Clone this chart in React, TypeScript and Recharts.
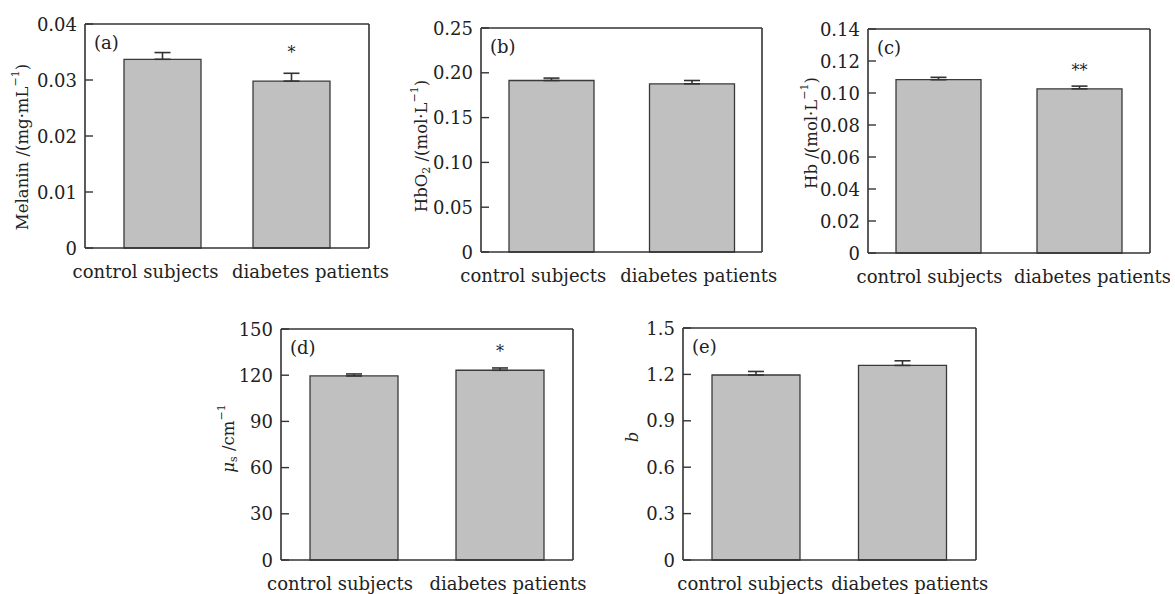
import React from "react"
import { BarChart, Bar, XAxis, YAxis, ErrorBar, LabelList, Label } from "recharts"

const categorias = ["control subjects", "diabetes patients"]

const melanina = [0.0337, 0.0298]
const melaninaErro = [0.0012, 0.0014]
const melaninaSig = ["", "*"]
const melaninaTicks = [0, 0.01, 0.02, 0.03, 0.04]

const hbo2 = [0.1914, 0.1877]
const hbo2Erro = [0.0027, 0.0037]
const hbo2Sig = ["", ""]
const hbo2Ticks = [0, 0.05, 0.1, 0.15, 0.2, 0.25]

const hb = [0.1083, 0.1026]
const hbErro = [0.0015, 0.0017]
const hbSig = ["", "**"]
const hbTicks = [0, 0.02, 0.04, 0.06, 0.08, 0.1, 0.12, 0.14]

const mus = [119.5, 123.2]
const musErro = [1.3, 1.5]
const musSig = ["", "*"]
const musTicks = [0, 30, 60, 90, 120, 150]

const bExp = [1.196, 1.258]
const bErro = [0.023, 0.03]
const bSig = ["", ""]
const bTicks = [0, 0.3, 0.6, 0.9, 1.2, 1.5]

const FONTE = "DejaVu Serif"
const COR_EIXO = "#333"
const COR_TEXTO = "#222"
const TAM_ROTULO = 16.5

type Parte = { t: string; sup?: boolean; sub?: boolean; it?: boolean }

interface PainelCfg {
  letra: string
  valores: number[]
  erros: number[]
  sig: string[]
  ticks: number[]
  casas: number
  rotulo: Parte[]
  x: number
  y: number
  w: number
  h: number
  barSize: number
  pad: number
  xDx: [number, number]
  rotuloGap: number
  rotuloDy: number
  estrelaOff: number
}

const paineis: PainelCfg[] = [
  {
    letra: "(a)", valores: melanina, erros: melaninaErro, sig: melaninaSig, ticks: melaninaTicks, casas: 2,
    rotulo: [{ t: "Melanin /(mg·mL" }, { t: "−1", sup: true }, { t: ")" }],
    x: 85, y: 24, w: 284, h: 224, barSize: 77, pad: 13, xDx: [-17, 19], rotuloGap: 63, rotuloDy: 11, estrelaOff: 23,
  },
  {
    letra: "(b)", valores: hbo2, erros: hbo2Erro, sig: hbo2Sig, ticks: hbo2Ticks, casas: 2,
    rotulo: [{ t: "HbO" }, { t: "2", sub: true }, { t: " /(mol·L" }, { t: "−1", sup: true }, { t: ")" }],
    x: 481, y: 28, w: 281, h: 224, barSize: 85, pad: 0, xDx: [-18, 7], rotuloGap: 60, rotuloDy: 6, estrelaOff: 13,
  },
  {
    letra: "(c)", valores: hb, erros: hbErro, sig: hbSig, ticks: hbTicks, casas: 2,
    rotulo: [{ t: "Hb /(mol·L" }, { t: "−1", sup: true }, { t: ")" }],
    x: 868, y: 29, w: 282, h: 224, barSize: 85, pad: 0, xDx: [-9, 13], rotuloGap: 57, rotuloDy: -8, estrelaOff: 13,
  },
  {
    letra: "(d)", valores: mus, erros: musErro, sig: musSig, ticks: musTicks, casas: 0,
    rotulo: [{ t: "μ", it: true }, { t: "s", sub: true }, { t: " /cm" }, { t: "−1", sup: true }],
    x: 281, y: 329, w: 292, h: 231, barSize: 88, pad: 0, xDx: [-14, 8], rotuloGap: 53, rotuloDy: -6, estrelaOff: 13,
  },
  {
    letra: "(e)", valores: bExp, erros: bErro, sig: bSig, ticks: bTicks, casas: 1,
    rotulo: [{ t: "b", it: true }],
    x: 683, y: 328, w: 293, h: 232, barSize: 88, pad: 0, xDx: [-6, 7], rotuloGap: 51, rotuloDy: -7, estrelaOff: 13,
  },
]

function partesTspan(partes: Parte[]) {
  let desloc = 0
  return partes.map((p, i) => {
    const alvo = p.sup ? -7 : p.sub ? 5 : 0
    const dy = alvo - desloc
    desloc = alvo
    return (
      <tspan
        key={i}
        dy={dy}
        fontSize={p.sup || p.sub ? 11 : TAM_ROTULO}
        fontStyle={p.it ? "italic" : "normal"}
      >
        {p.t}
      </tspan>
    )
  })
}

function Painel({ p }: { p: PainelCfg }) {
  // the top and right axes only draw the 1px frame, so the margins give that pixel back
  const largura = 80 + p.w + 20
  const altura = 20 + p.h + 40
  const maxY = p.ticks[p.ticks.length - 1]
  const dados = categorias.map((nome, i) => ({
    nome,
    valor: p.valores[i],
    erro: [0, p.erros[i]],
    sig: p.sig[i],
  }))
  const eixo = { stroke: COR_EIXO, strokeWidth: 1.6 }

  const XTick = (props: any) => {
    const { x, y, payload, index } = props
    return (
      <text x={x + p.xDx[index]} y={y + 30} textAnchor="middle" fill={COR_TEXTO} fontSize={18} fontFamily={FONTE}>
        {payload.value}
      </text>
    )
  }

  const YTick = (props: any) => {
    const { x, y, payload } = props
    const v = payload.value as number
    return (
      <g>
        <line x1={x} x2={x + 8} y1={y} y2={y} stroke={COR_EIXO} strokeWidth={1.4} />
        <text x={x - 8} y={y} textAnchor="end" dominantBaseline="central" fill={COR_TEXTO} fontSize={18} fontFamily={FONTE}>
          {v === 0 ? "0" : v.toFixed(p.casas)}
        </text>
      </g>
    )
  }

  return (
    <div style={{ position: "absolute", left: p.x - 80, top: p.y - 20 }}>
      <BarChart
        width={largura}
        height={altura}
        data={dados}
        margin={{ top: 19, right: 19, bottom: 0, left: 0 }}
        barSize={p.barSize}
      >
        <XAxis
          dataKey="nome"
          height={40}
          padding={{ left: p.pad, right: p.pad }}
          axisLine={eixo}
          tickLine={false}
          tickSize={0}
          tickMargin={0}
          interval={0}
          tick={XTick}
        />
        <XAxis xAxisId="topo" orientation="top" dataKey="nome" height={1} axisLine={eixo} tick={false} tickLine={false}>
          <Label
            content={(lp: any) => {
              const vb = lp.viewBox || {}
              return (
                <text x={vb.x + 9} y={vb.y + vb.height + 25} fill={COR_TEXTO} fontSize={18} fontFamily={FONTE}>
                  {p.letra}
                </text>
              )
            }}
          />
        </XAxis>
        <YAxis
          domain={[0, maxY]}
          ticks={p.ticks}
          interval={0}
          width={80}
          tickSize={0}
          tickMargin={0}
          tickLine={false}
          axisLine={eixo}
          tick={YTick}
        >
          <Label
            content={(lp: any) => {
              const vb = lp.viewBox || {}
              const cx = vb.x + vb.width - p.rotuloGap
              const cy = vb.y + vb.height / 2 + p.rotuloDy
              return (
                <text
                  x={cx}
                  y={cy}
                  transform={`rotate(-90 ${cx} ${cy})`}
                  textAnchor="middle"
                  dominantBaseline="central"
                  fill={COR_TEXTO}
                  fontFamily={FONTE}
                  fontSize={TAM_ROTULO}
                >
                  {partesTspan(p.rotulo)}
                </text>
              )
            }}
          />
        </YAxis>
        <YAxis yAxisId="dir" orientation="right" width={1} domain={[0, maxY]} axisLine={eixo} tick={false} tickLine={false} />
        <Bar dataKey="valor" fill="#c0c0c0" stroke="#3a3a3a" strokeWidth={1.3} isAnimationActive={false}>
          <ErrorBar dataKey="erro" width={8} stroke={COR_EIXO} strokeWidth={1.6} direction="y" />
          <LabelList
            dataKey="sig"
            content={(lp: any) => {
              if (!lp.value) return null
              return (
                <text
                  x={lp.x + lp.width / 2}
                  y={lp.y - p.estrelaOff}
                  textAnchor="middle"
                  fill={COR_TEXTO}
                  fontSize={16}
                  fontFamily={FONTE}
                >
                  {lp.value}
                </text>
              )
            }}
          />
        </Bar>
      </BarChart>
    </div>
  )
}

export default function App() {
  return (
    <div style={{ position: "absolute", left: 0, top: 0, width: 1175, height: 594, background: "#fff" }}>
      {paineis.map((p) => (
        <Painel key={p.letra} p={p} />
      ))}
    </div>
  )
}
